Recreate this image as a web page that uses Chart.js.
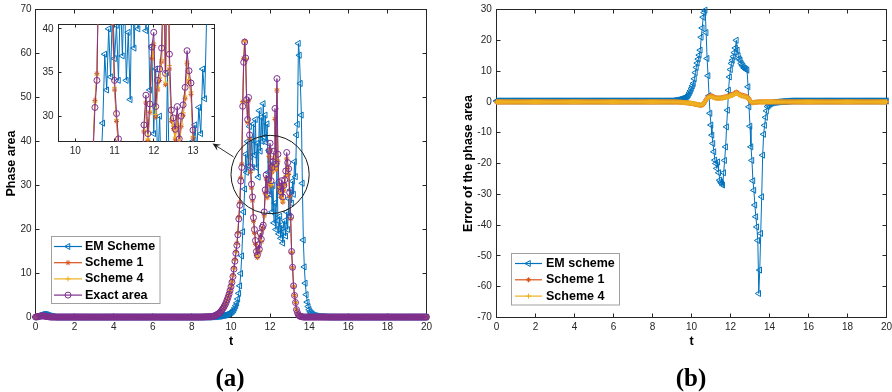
<!DOCTYPE html>
<html>
<head>
<meta charset="utf-8">
<title>Phase area and its error</title>
<script src="https://cdn.jsdelivr.net/npm/chart.js@4/dist/chart.umd.min.js"></script>
<style>
html,body{margin:0;padding:0;background:#ffffff;}
#wrap{position:relative;width:892px;height:392px;overflow:hidden;background:#fff;}
#wrap canvas{position:absolute;left:0;top:0;width:892px;height:392px;}
.cap{position:absolute;font-family:"Liberation Serif","Times New Roman",serif;font-weight:bold;font-size:25px;line-height:1;color:#000;transform:translate(-50%,-50%);white-space:nowrap;}
</style>
</head>
<body>
<div id="wrap">
  <canvas id="chartA" width="892" height="392"></canvas>
  <canvas id="chartB" width="892" height="392"></canvas>
  <canvas id="chartInset" width="892" height="392"></canvas>
  <div class="cap" style="left:230px;top:377px;">(a)</div>
  <div class="cap" style="left:691px;top:377px;">(b)</div>
</div>
<script>
// ---------------- DATA (time grid 0..20, step 0.05) ----------------
const tGrid = [
0,0.05,0.1,0.15,0.2,0.25,0.3,0.35,0.4,0.45,0.5,0.55,0.6,0.65,0.7,0.75,0.8,0.85,0.9,0.95,
1,1.05,1.1,1.15,1.2,1.25,1.3,1.35,1.4,1.45,1.5,1.55,1.6,1.65,1.7,1.75,1.8,1.85,1.9,1.95,
2,2.05,2.1,2.15,2.2,2.25,2.3,2.35,2.4,2.45,2.5,2.55,2.6,2.65,2.7,2.75,2.8,2.85,2.9,2.95,
3,3.05,3.1,3.15,3.2,3.25,3.3,3.35,3.4,3.45,3.5,3.55,3.6,3.65,3.7,3.75,3.8,3.85,3.9,3.95,
4,4.05,4.1,4.15,4.2,4.25,4.3,4.35,4.4,4.45,4.5,4.55,4.6,4.65,4.7,4.75,4.8,4.85,4.9,4.95,
5,5.05,5.1,5.15,5.2,5.25,5.3,5.35,5.4,5.45,5.5,5.55,5.6,5.65,5.7,5.75,5.8,5.85,5.9,5.95,
6,6.05,6.1,6.15,6.2,6.25,6.3,6.35,6.4,6.45,6.5,6.55,6.6,6.65,6.7,6.75,6.8,6.85,6.9,6.95,
7,7.05,7.1,7.15,7.2,7.25,7.3,7.35,7.4,7.45,7.5,7.55,7.6,7.65,7.7,7.75,7.8,7.85,7.9,7.95,
8,8.05,8.1,8.15,8.2,8.25,8.3,8.35,8.4,8.45,8.5,8.55,8.6,8.65,8.7,8.75,8.8,8.85,8.9,8.95,
9,9.05,9.1,9.15,9.2,9.25,9.3,9.35,9.4,9.45,9.5,9.55,9.6,9.65,9.7,9.75,9.8,9.85,9.9,9.95,
10,10.05,10.1,10.15,10.2,10.25,10.3,10.35,10.4,10.45,10.5,10.55,10.6,10.65,10.7,10.75,10.8,10.85,10.9,10.95,
11,11.05,11.1,11.15,11.2,11.25,11.3,11.35,11.4,11.45,11.5,11.55,11.6,11.65,11.7,11.75,11.8,11.85,11.9,11.95,
12,12.05,12.1,12.15,12.2,12.25,12.3,12.35,12.4,12.45,12.5,12.55,12.6,12.65,12.7,12.75,12.8,12.85,12.9,12.95,
13,13.05,13.1,13.15,13.2,13.25,13.3,13.35,13.4,13.45,13.5,13.55,13.6,13.65,13.7,13.75,13.8,13.85,13.9,13.95,
14,14.05,14.1,14.15,14.2,14.25,14.3,14.35,14.4,14.45,14.5,14.55,14.6,14.65,14.7,14.75,14.8,14.85,14.9,14.95,
15,15.05,15.1,15.15,15.2,15.25,15.3,15.35,15.4,15.45,15.5,15.55,15.6,15.65,15.7,15.75,15.8,15.85,15.9,15.95,
16,16.05,16.1,16.15,16.2,16.25,16.3,16.35,16.4,16.45,16.5,16.55,16.6,16.65,16.7,16.75,16.8,16.85,16.9,16.95,
17,17.05,17.1,17.15,17.2,17.25,17.3,17.35,17.4,17.45,17.5,17.55,17.6,17.65,17.7,17.75,17.8,17.85,17.9,17.95,
18,18.05,18.1,18.15,18.2,18.25,18.3,18.35,18.4,18.45,18.5,18.55,18.6,18.65,18.7,18.75,18.8,18.85,18.9,18.95,
19,19.05,19.1,19.15,19.2,19.25,19.3,19.35,19.4,19.45,19.5,19.55,19.6,19.65,19.7,19.75,19.8,19.85,19.9,19.95,
20];

// Panel (a): phase area
const emArea = [
0.1,0.15,0.2,0.3,0.4,0.5,0.6,0.65,0.7,0.7,0.7,0.65,0.6,0.5,0.4,0.35,0.3,0.25,0.2,0.15,
0.1,0.1,0.1,0.1,0.1,0.1,0.1,0.1,0.1,0.1,0.1,0.1,0.1,0.1,0.1,0.1,0.1,0.1,0.1,0.1,
0.1,0.1,0.1,0.1,0.1,0.1,0.1,0.1,0.1,0.1,0.1,0.1,0.1,0.1,0.1,0.1,0.1,0.1,0.1,0.1,
0.1,0.1,0.1,0.1,0.1,0.1,0.1,0.1,0.1,0.1,0.1,0.1,0.1,0.1,0.1,0.1,0.1,0.1,0.1,0.1,
0.1,0.1,0.1,0.1,0.1,0.1,0.1,0.1,0.1,0.1,0.1,0.1,0.1,0.1,0.1,0.1,0.1,0.1,0.1,0.1,
0.1,0.1,0.1,0.1,0.1,0.1,0.1,0.1,0.1,0.1,0.1,0.1,0.1,0.1,0.1,0.1,0.1,0.1,0.1,0.1,
0.1,0.1,0.1,0.1,0.1,0.1,0.1,0.1,0.1,0.1,0.1,0.1,0.1,0.1,0.1,0.1,0.1,0.1,0.1,0.1,
0.1,0.1,0.1,0.1,0.1,0.1,0.1,0.1,0.1,0.1,0.1,0.1,0.1,0.1,0.1,0.1,0.1,0.1,0.1,0.1,
0.1,0.1,0.1,0.1,0.1,0.1,0.1,0.1,0.1,0.1,0.1,0.1,0.1,0.1,0.1,0.1,0.1,0.1,0.1,0.1,
0.15,0.15,0.15,0.2,0.2,0.2,0.25,0.25,0.3,0.3,
0.35,0.4,0.45,0.5,0.55,0.6,0.7,0.8,0.9,1.0,
1.1,1.3,1.5,1.8,2.2,2.7,3.3,4.2,5.5,7.2,
10.0,14.0,19.5,24.0,29.2,37.1,33.0,40.0,34.5,43.4,
36.6,40.4,34.1,44.0,36.9,45.0,34.1,39.6,31.9,47.0,
37.8,45.5,40.0,48.6,41.0,46.0,39.8,44.0,33.0,38.0,
28.0,35.4,24.0,30.0,21.5,26.0,20.0,35.0,22.0,19.0,
23.0,18.0,21.0,16.9,19.5,22.0,18.5,24.0,20.0,27.0,
23.0,29.0,26.0,31.0,28.0,35.4,32.0,41.5,43.9,62.3,
59.6,53.2,46.0,30.5,17.6,11.5,7.8,5.2,3.5,2.5,
1.8,1.3,1.0,0.8,0.6,0.5,0.4,0.35,0.3,0.25,0.2,
0.2,0.2,0.2,0.18,0.16,0.15,0.14,0.12,0.11,0.1,
0.1,0.1,0.1,0.1,0.1,0.1,0.1,0.1,0.1,0.1,0.1,0.1,0.1,0.1,0.1,0.1,0.1,0.1,0.1,0.1,
0.1,0.1,0.1,0.1,0.1,0.1,0.1,0.1,0.1,0.1,0.1,0.1,0.1,0.1,0.1,0.1,0.1,0.1,0.1,0.1,
0.1,0.1,0.1,0.1,0.1,0.1,0.1,0.1,0.1,0.1,0.1,0.1,0.1,0.1,0.1,0.1,0.1,0.1,0.1,0.1,
0.1,0.1,0.1,0.1,0.1,0.1,0.1,0.1,0.1,0.1,0.1,0.1,0.1,0.1,0.1,0.1,0.1,0.1,0.1,0.1,
0.1,0.1,0.1,0.1,0.1,0.1,0.1,0.1,0.1,0.1,0.1,0.1,0.1,0.1,0.1,0.1,0.1,0.1,0.1,0.1];

const s1Area = [
0.1,0.15,0.2,0.25,0.3,0.32,0.35,0.35,0.35,0.33,0.3,0.25,0.2,0.18,0.15,0.12,0.1,0.1,0.1,0.1,
0.1,0.1,0.1,0.1,0.1,0.1,0.1,0.1,0.1,0.1,0.1,0.1,0.1,0.1,0.1,0.1,0.1,0.1,0.1,0.1,
0.1,0.1,0.1,0.1,0.1,0.1,0.1,0.1,0.1,0.1,0.1,0.1,0.1,0.1,0.1,0.1,0.1,0.1,0.1,0.1,
0.1,0.1,0.1,0.1,0.1,0.1,0.1,0.1,0.1,0.1,0.1,0.1,0.1,0.1,0.1,0.1,0.1,0.1,0.1,0.1,
0.1,0.1,0.1,0.1,0.1,0.1,0.1,0.1,0.1,0.1,0.1,0.1,0.1,0.1,0.1,0.1,0.1,0.1,0.1,0.1,
0.1,0.1,0.1,0.1,0.1,0.1,0.1,0.1,0.1,0.1,0.1,0.1,0.1,0.1,0.1,0.1,0.1,0.1,0.1,0.1,
0.1,0.1,0.1,0.1,0.1,0.1,0.1,0.1,0.1,0.1,0.1,0.1,0.1,0.1,0.1,0.1,0.1,0.1,0.1,0.1,
0.1,0.1,0.1,0.1,0.1,0.1,0.1,0.1,0.1,0.1,0.1,0.1,0.1,0.1,0.1,0.1,0.1,0.1,0.1,0.1,
0.1,0.1,0.1,0.1,0.1,0.1,0.1,0.1,0.1,0.1,0.11,0.12,0.12,0.13,0.14,0.15,0.16,0.17,0.18,0.19,
0.2,0.25,0.3,0.35,0.45,0.55,0.7,0.85,1.0,1.2,
1.5,1.8,2.1,2.5,2.9,3.4,4.0,4.7,5.4,6.2,
7.2,8.3,9.6,11.3,13.2,15.0,16.9,19.3,22.9,26.2,
31.8,34.9,49.1,58.9,62.9,58.6,49.0,44.3,49.2,40.6,
33.0,29.4,26.5,21.8,19.1,16.6,14.1,13.6,15.8,14.9,
18.4,17.2,19.9,20.3,23.1,28.2,31.5,27.2,30.4,36.6,
38.1,29.9,33.0,34.1,36.2,45.0,33.6,51.5,35.4,29.4,
28.6,27.3,29.8,26.2,28.8,30.1,32.0,36.0,33.9,32.5,
27.5,22.4,14.8,11.3,7.1,5.0,3.4,1.8,1.1,0.6,
0.35,0.25,0.2,0.15,0.1,0.1,0.1,0.1,0.1,0.1,
0.1,0.1,0.1,0.1,0.1,0.1,0.1,0.1,0.1,0.1,0.1,
0.1,0.1,0.1,0.1,0.1,0.1,0.1,0.1,0.1,0.1,
0.1,0.1,0.1,0.1,0.1,0.1,0.1,0.1,0.1,0.1,0.1,0.1,0.1,0.1,0.1,0.1,0.1,0.1,0.1,0.1,
0.1,0.1,0.1,0.1,0.1,0.1,0.1,0.1,0.1,0.1,0.1,0.1,0.1,0.1,0.1,0.1,0.1,0.1,0.1,0.1,
0.1,0.1,0.1,0.1,0.1,0.1,0.1,0.1,0.1,0.1,0.1,0.1,0.1,0.1,0.1,0.1,0.1,0.1,0.1,0.1,
0.1,0.1,0.1,0.1,0.1,0.1,0.1,0.1,0.1,0.1,0.1,0.1,0.1,0.1,0.1,0.1,0.1,0.1,0.1,0.1,
0.1,0.1,0.1,0.1,0.1,0.1,0.1,0.1,0.1,0.1,0.1,0.1,0.1,0.1,0.1,0.1,0.1,0.1,0.1,0.1];

const s4Area = [
0.1,0.15,0.2,0.25,0.3,0.32,0.35,0.35,0.35,0.33,0.3,0.25,0.2,0.18,0.15,0.12,0.1,0.1,0.1,0.1,
0.1,0.1,0.1,0.1,0.1,0.1,0.1,0.1,0.1,0.1,0.1,0.1,0.1,0.1,0.1,0.1,0.1,0.1,0.1,0.1,
0.1,0.1,0.1,0.1,0.1,0.1,0.1,0.1,0.1,0.1,0.1,0.1,0.1,0.1,0.1,0.1,0.1,0.1,0.1,0.1,
0.1,0.1,0.1,0.1,0.1,0.1,0.1,0.1,0.1,0.1,0.1,0.1,0.1,0.1,0.1,0.1,0.1,0.1,0.1,0.1,
0.1,0.1,0.1,0.1,0.1,0.1,0.1,0.1,0.1,0.1,0.1,0.1,0.1,0.1,0.1,0.1,0.1,0.1,0.1,0.1,
0.1,0.1,0.1,0.1,0.1,0.1,0.1,0.1,0.1,0.1,0.1,0.1,0.1,0.1,0.1,0.1,0.1,0.1,0.1,0.1,
0.1,0.1,0.1,0.1,0.1,0.1,0.1,0.1,0.1,0.1,0.1,0.1,0.1,0.1,0.1,0.1,0.1,0.1,0.1,0.1,
0.1,0.1,0.1,0.1,0.1,0.1,0.1,0.1,0.1,0.1,0.1,0.1,0.1,0.1,0.1,0.1,0.1,0.1,0.1,0.1,
0.1,0.1,0.1,0.1,0.1,0.1,0.1,0.1,0.1,0.1,0.11,0.12,0.12,0.13,0.14,0.15,0.16,0.17,0.18,0.19,
0.2,0.25,0.3,0.35,0.45,0.55,0.7,0.85,1.0,1.2,
1.5,1.8,2.1,2.5,2.9,3.4,4.0,4.7,5.4,6.2,
7.2,8.2,9.5,11.2,13.1,14.9,16.8,19.2,22.8,26.0,
31.6,34.7,48.8,58.6,62.7,58.8,49.2,44.5,49.4,40.8,
33.3,29.6,26.8,22.0,19.3,16.8,14.3,13.8,16.0,15.1,
18.6,17.4,20.0,20.5,23.3,28.4,31.7,27.4,30.6,36.9,
38.4,30.2,33.3,34.4,36.5,45.5,33.9,52.0,35.8,29.7,
28.9,27.6,30.1,26.5,29.1,30.4,32.3,36.3,34.2,32.8,
27.7,22.5,14.9,11.3,7.1,5.0,3.4,1.8,1.1,0.6,
0.35,0.25,0.2,0.15,0.1,0.1,0.1,0.1,0.1,0.1,
0.1,0.1,0.1,0.1,0.1,0.1,0.1,0.1,0.1,0.1,0.1,
0.1,0.1,0.1,0.1,0.1,0.1,0.1,0.1,0.1,0.1,
0.1,0.1,0.1,0.1,0.1,0.1,0.1,0.1,0.1,0.1,0.1,0.1,0.1,0.1,0.1,0.1,0.1,0.1,0.1,0.1,
0.1,0.1,0.1,0.1,0.1,0.1,0.1,0.1,0.1,0.1,0.1,0.1,0.1,0.1,0.1,0.1,0.1,0.1,0.1,0.1,
0.1,0.1,0.1,0.1,0.1,0.1,0.1,0.1,0.1,0.1,0.1,0.1,0.1,0.1,0.1,0.1,0.1,0.1,0.1,0.1,
0.1,0.1,0.1,0.1,0.1,0.1,0.1,0.1,0.1,0.1,0.1,0.1,0.1,0.1,0.1,0.1,0.1,0.1,0.1,0.1,
0.1,0.1,0.1,0.1,0.1,0.1,0.1,0.1,0.1,0.1,0.1,0.1,0.1,0.1,0.1,0.1,0.1,0.1,0.1,0.1];

const exactArea = [
0.1,0.15,0.2,0.25,0.3,0.32,0.35,0.35,0.35,0.33,0.3,0.25,0.2,0.18,0.15,0.12,0.1,0.1,0.1,0.1,
0.1,0.1,0.1,0.1,0.1,0.1,0.1,0.1,0.1,0.1,0.1,0.1,0.1,0.1,0.1,0.1,0.1,0.1,0.1,0.1,
0.1,0.1,0.1,0.1,0.1,0.1,0.1,0.1,0.1,0.1,0.1,0.1,0.1,0.1,0.1,0.1,0.1,0.1,0.1,0.1,
0.1,0.1,0.1,0.1,0.1,0.1,0.1,0.1,0.1,0.1,0.1,0.1,0.1,0.1,0.1,0.1,0.1,0.1,0.1,0.1,
0.1,0.1,0.1,0.1,0.1,0.1,0.1,0.1,0.1,0.1,0.1,0.1,0.1,0.1,0.1,0.1,0.1,0.1,0.1,0.1,
0.1,0.1,0.1,0.1,0.1,0.1,0.1,0.1,0.1,0.1,0.1,0.1,0.1,0.1,0.1,0.1,0.1,0.1,0.1,0.1,
0.1,0.1,0.1,0.1,0.1,0.1,0.1,0.1,0.1,0.1,0.1,0.1,0.1,0.1,0.1,0.1,0.1,0.1,0.1,0.1,
0.1,0.1,0.1,0.1,0.1,0.1,0.1,0.1,0.1,0.1,0.1,0.1,0.1,0.1,0.1,0.1,0.1,0.1,0.1,0.1,
0.1,0.1,0.1,0.1,0.1,0.1,0.1,0.1,0.1,0.1,0.11,0.12,0.12,0.13,0.14,0.15,0.16,0.17,0.18,0.19,
0.2,0.25,0.3,0.35,0.45,0.55,0.7,0.85,1.0,1.2,
1.5,1.8,2.1,2.5,2.9,3.4,4.0,4.6,5.3,6.1,
7.0,8.0,9.3,11.0,12.8,14.6,16.4,18.8,22.4,25.5,
31.0,34.1,48.0,58.0,62.6,59.0,49.5,45.0,50.0,41.5,
34.1,30.3,27.4,22.7,20.0,17.5,15.0,14.2,16.5,15.5,
19.2,17.8,20.5,21.0,24.0,29.0,32.4,28.0,31.4,37.9,
39.6,31.1,34.1,35.4,37.8,47.5,34.9,54.3,37.1,30.7,
29.8,28.5,31.1,27.4,30.0,31.3,33.3,37.5,35.2,33.8,
28.4,22.9,15.0,11.4,7.2,5.0,3.4,1.8,1.1,0.6,
0.35,0.25,0.2,0.15,0.1,0.1,0.1,0.1,0.1,0.1,
0.1,0.1,0.1,0.1,0.1,0.1,0.1,0.1,0.1,0.1,0.1,
0.1,0.1,0.1,0.1,0.1,0.1,0.1,0.1,0.1,0.1,
0.1,0.1,0.1,0.1,0.1,0.1,0.1,0.1,0.1,0.1,0.1,0.1,0.1,0.1,0.1,0.1,0.1,0.1,0.1,0.1,
0.1,0.1,0.1,0.1,0.1,0.1,0.1,0.1,0.1,0.1,0.1,0.1,0.1,0.1,0.1,0.1,0.1,0.1,0.1,0.1,
0.1,0.1,0.1,0.1,0.1,0.1,0.1,0.1,0.1,0.1,0.1,0.1,0.1,0.1,0.1,0.1,0.1,0.1,0.1,0.1,
0.1,0.1,0.1,0.1,0.1,0.1,0.1,0.1,0.1,0.1,0.1,0.1,0.1,0.1,0.1,0.1,0.1,0.1,0.1,0.1,
0.1,0.1,0.1,0.1,0.1,0.1,0.1,0.1,0.1,0.1,0.1,0.1,0.1,0.1,0.1,0.1,0.1,0.1,0.1,0.1];

// Panel (b): error of the phase area
const emErr = [
0.3,0.3,0.3,0.3,0.3,0.3,0.3,0.3,0.3,0.3,0.3,0.3,0.3,0.3,0.3,0.3,0.3,0.3,0.3,0.3,
0.3,0.3,0.3,0.3,0.3,0.3,0.3,0.3,0.3,0.3,0.3,0.3,0.3,0.3,0.3,0.3,0.3,0.3,0.3,0.3,
0.3,0.3,0.3,0.3,0.3,0.3,0.3,0.3,0.3,0.3,0.3,0.3,0.3,0.3,0.3,0.3,0.3,0.3,0.3,0.3,
0.3,0.3,0.3,0.3,0.3,0.3,0.3,0.3,0.3,0.3,0.3,0.3,0.3,0.3,0.3,0.3,0.3,0.3,0.3,0.3,
0.3,0.3,0.3,0.3,0.3,0.3,0.3,0.3,0.3,0.3,0.3,0.3,0.3,0.3,0.3,0.3,0.3,0.3,0.3,0.3,
0.3,0.3,0.3,0.3,0.3,0.3,0.3,0.3,0.3,0.3,0.3,0.3,0.3,0.3,0.3,0.3,0.3,0.3,0.3,0.3,
0.3,0.3,0.3,0.3,0.3,0.3,0.3,0.3,0.3,0.3,0.3,0.3,0.3,0.3,0.3,0.3,0.3,0.3,0.3,0.3,
0.3,0.3,0.3,0.3,0.3,0.3,0.3,0.3,0.3,0.3,0.3,0.3,0.3,0.3,0.3,0.3,0.3,0.3,0.3,0.3,
0.3,0.3,0.3,0.3,0.3,0.3,0.3,0.3,0.3,0.3,0.3,0.3,0.3,0.3,0.3,0.3,0.3,0.3,0.3,0.3,
0.3,0.35,0.4,0.45,0.5,0.55,0.6,0.7,0.8,0.9,
1.0,1.1,1.2,1.35,1.5,1.7,2.0,2.4,3.0,3.6,
4.4,5.2,6.0,7.5,9.5,11.2,12.6,13.9,15.2,16.8,
21.0,24.0,27.5,29.0,29.8,22.5,14.1,8.5,2.0,-3.7,
-7.5,-10.8,-13.5,-16.2,-18.9,-20.0,-21.6,-19.5,-23.0,-25.4,
-26.0,-26.5,-27.0,-23.0,-19.0,-14.6,-8.1,-2.7,3.8,8.1,
10.5,12.5,13.5,14.7,16.0,17.5,20.0,16.8,15.0,14.0,
13.5,12.5,12.0,11.5,11.0,10.8,10.5,10.3,4.9,-1.6,
-7.9,-14.6,-19.0,-25.6,-28.7,-33.5,-37.3,-40.6,-45.0,-62.2,
-54.6,-42.7,-30.8,-17.3,-10.5,-7.6,-5.0,-2.9,-1.5,-1.1,
-0.8,-0.6,-0.4,-0.3,-0.2,-0.15,-0.1,-0.1,-0.05,0,0,
0.02,0.05,0.08,0.1,0.12,0.15,0.18,0.2,0.22,0.25,
0.27,0.28,0.3,0.3,0.3,0.3,0.3,0.3,0.3,0.3,0.3,0.3,0.3,0.3,0.3,0.3,0.3,0.3,0.3,0.3,
0.3,0.3,0.3,0.3,0.3,0.3,0.3,0.3,0.3,0.3,0.3,0.3,0.3,0.3,0.3,0.3,0.3,0.3,0.3,0.3,
0.3,0.3,0.3,0.3,0.3,0.3,0.3,0.3,0.3,0.3,0.3,0.3,0.3,0.3,0.3,0.3,0.3,0.3,0.3,0.3,
0.3,0.3,0.3,0.3,0.3,0.3,0.3,0.3,0.3,0.3,0.3,0.3,0.3,0.3,0.3,0.3,0.3,0.3,0.3,0.3,
0.3,0.3,0.3,0.3,0.3,0.3,0.3,0.3,0.3,0.3,0.3,0.3,0.3,0.3,0.3,0.3,0.3,0.3,0.3,0.3];

const s1Err = [
0,0,0,0,0,0,0,0,0,0,0,0,0,0,0,0,0,0,0,0,
0,0,0,0,0,0,0,0,0,0,0,0,0,0,0,0,0,0,0,0,
0,0,0,0,0,0,0,0,0,0,0,0,0,0,0,0,0,0,0,0,
0,0,0,0,0,0,0,0,0,0,0,0,0,0,0,0,0,0,0,0,
0,0,0,0,0,0,0,0,0,0,0,0,0,0,0,0,0,0,0,0,
0,0,0,0,0,0,0,0,0,0,0,0,0,0,0,0,0,0,0,0,
0,0,0,0,0,0,0,0,0,0,0,0,0,0,0,0,0,0,0,0,
0,0,0,0,0,0,0,0,0,0,0,0,0,0,0,0,0,0,0,0,
0,0,0,0,0,0,0,0,0,0,0,0,0,0,0,0,0,0,0,0,
0,0,0,0,-0.05,-0.05,-0.05,-0.1,-0.1,-0.1,
-0.15,-0.15,-0.2,-0.2,-0.25,-0.3,-0.3,-0.35,-0.4,-0.45,
-0.5,-0.55,-0.6,-0.7,-0.75,-0.8,-0.9,-0.95,-1.0,-1.1,
-1.1,-1.0,-0.8,-0.4,0.2,0.7,1.1,1.5,1.8,1.9,
2.0,1.9,1.7,1.6,1.4,1.3,1.3,1.2,1.3,1.2,
1.3,1.4,1.3,1.5,1.6,1.5,1.7,1.9,1.8,2.0,
2.2,2.4,2.3,2.5,2.7,2.9,3.2,3.0,2.7,2.5,
2.3,2.1,2.2,2.0,1.9,1.9,1.8,1.6,1.4,0.9,
0.4,0,-0.2,-0.3,-0.2,-0.15,-0.1,-0.1,-0.05,0,
0,0,0,0,0,0,0,0,0,0,
0,0,0,0,0,0,0,0,0,0,0,
0,0,0,0,0,0,0,0,0,0,
0,0,0,0,0,0,0,0,0,0,0,0,0,0,0,0,0,0,0,0,
0,0,0,0,0,0,0,0,0,0,0,0,0,0,0,0,0,0,0,0,
0,0,0,0,0,0,0,0,0,0,0,0,0,0,0,0,0,0,0,0,
0,0,0,0,0,0,0,0,0,0,0,0,0,0,0,0,0,0,0,0,
0,0,0,0,0,0,0,0,0,0,0,0,0,0,0,0,0,0,0,0];

const s4Err = [
0,0,0,0,0,0,0,0,0,0,0,0,0,0,0,0,0,0,0,0,
0,0,0,0,0,0,0,0,0,0,0,0,0,0,0,0,0,0,0,0,
0,0,0,0,0,0,0,0,0,0,0,0,0,0,0,0,0,0,0,0,
0,0,0,0,0,0,0,0,0,0,0,0,0,0,0,0,0,0,0,0,
0,0,0,0,0,0,0,0,0,0,0,0,0,0,0,0,0,0,0,0,
0,0,0,0,0,0,0,0,0,0,0,0,0,0,0,0,0,0,0,0,
0,0,0,0,0,0,0,0,0,0,0,0,0,0,0,0,0,0,0,0,
0,0,0,0,0,0,0,0,0,0,0,0,0,0,0,0,0,0,0,0,
0,0,0,0,0,0,0,0,0,0,0,0,0,0,0,0,0,0,0,0,
0,0,0,0,-0.05,-0.05,-0.05,-0.1,-0.1,-0.1,
-0.15,-0.15,-0.2,-0.2,-0.25,-0.25,-0.3,-0.35,-0.4,-0.4,
-0.45,-0.5,-0.55,-0.65,-0.7,-0.75,-0.85,-0.9,-0.95,-1.0,
-1.0,-0.9,-0.7,-0.35,0.2,0.6,1.0,1.4,1.6,1.7,
1.8,1.7,1.5,1.4,1.3,1.2,1.2,1.1,1.2,1.1,
1.2,1.3,1.2,1.4,1.5,1.4,1.6,1.7,1.6,1.8,
2.0,2.2,2.1,2.3,2.5,2.7,2.9,2.8,2.5,2.3,
2.1,1.9,2.0,1.8,1.7,1.7,1.6,1.5,1.3,0.8,
0.35,0,-0.2,-0.25,-0.2,-0.15,-0.1,-0.1,-0.05,0,
0,0,0,0,0,0,0,0,0,0,
0,0,0,0,0,0,0,0,0,0,0,
0,0,0,0,0,0,0,0,0,0,
0,0,0,0,0,0,0,0,0,0,0,0,0,0,0,0,0,0,0,0,
0,0,0,0,0,0,0,0,0,0,0,0,0,0,0,0,0,0,0,0,
0,0,0,0,0,0,0,0,0,0,0,0,0,0,0,0,0,0,0,0,
0,0,0,0,0,0,0,0,0,0,0,0,0,0,0,0,0,0,0,0,
0,0,0,0,0,0,0,0,0,0,0,0,0,0,0,0,0,0,0,0];

// ---------------- STYLE ----------------
const FONT = '"Liberation Sans", Arial, Helvetica, sans-serif';
const AXC = '#262626';
const C_EM = '#0072BD', C_S1 = '#D95319', C_S4 = '#EDB120', C_EX = '#7E2F8E';

function toXY(vals){ return tGrid.map((t,i)=>({x:t, y:vals[i]})); }

function series(label, vals, color, style, r, rot, order, clip){
  return {
    label, data: toXY(vals), showLine: true,
    borderColor: color, borderWidth: 1, backgroundColor: 'rgba(0,0,0,0)',
    pointStyle: style, pointRadius: r, pointHoverRadius: r, pointRotation: rot,
    pointBorderColor: color, pointBackgroundColor: 'rgba(0,0,0,0)', pointBorderWidth: 1,
    tension: 0, order, clip
  };
}

function axis(o){
  return {
    type: 'linear', min: o.min, max: o.max,
    grid: {display: false, drawTicks: false},
    border: {display: false},
    ticks: {stepSize: o.step, padding: o.pad, color: AXC, font: {family: FONT, size: 10},
            maxRotation: 0, minRotation: 0, autoSkip: false, includeBounds: false},
    title: o.title ? {display: true, text: o.title, color: '#000',
            font: {family: FONT, size: 12.5, weight: 'bold'}, padding: o.tpad} : {display: false},
    afterFit(s){
      if (o.isX) s.height = o.fit; else s.width = o.fit;
      s.paddingLeft = 0; s.paddingRight = 0; s.paddingTop = 0; s.paddingBottom = 0;
    }
  };
}

function baseOptions(pad, xA, yA){
  return {
    responsive: false, animation: false, devicePixelRatio: 1, events: [],
    layout: {padding: pad},
    plugins: {legend: {display: false}, tooltip: {enabled: false}, title: {display: false}},
    scales: {x: xA, y: yA}
  };
}

function drawMarker(ctx, style, r, rot, x, y){
  if (Chart.helpers && Chart.helpers.drawPoint) {
    Chart.helpers.drawPoint(ctx, {pointStyle: style, radius: r, rotation: rot, borderWidth: 1}, x, y);
  } else {
    ctx.beginPath(); ctx.arc(x, y, r, 0, Math.PI*2); ctx.stroke();
  }
}

function framePlugin(tickLen, fill){
  return { id: 'frame', beforeDatasetsDraw(chart){
    const ctx = chart.ctx, a = chart.chartArea, xs = chart.scales.x, ys = chart.scales.y;
    ctx.save();
    if (fill) { ctx.fillStyle = fill; ctx.fillRect(a.left, a.top, a.right-a.left, a.bottom-a.top); }
    ctx.strokeStyle = AXC; ctx.lineWidth = 1;
    ctx.beginPath();
    xs.ticks.forEach(tk => {
      const p = Math.floor(xs.getPixelForValue(tk.value)) + 0.5;
      ctx.moveTo(p, a.bottom); ctx.lineTo(p, a.bottom - tickLen);
      ctx.moveTo(p, a.top); ctx.lineTo(p, a.top + tickLen);
    });
    ys.ticks.forEach(tk => {
      const p = Math.floor(ys.getPixelForValue(tk.value)) + 0.5;
      ctx.moveTo(a.left, p); ctx.lineTo(a.left + tickLen, p);
      ctx.moveTo(a.right, p); ctx.lineTo(a.right - tickLen, p);
    });
    ctx.stroke();
    ctx.strokeRect(a.left, a.top, a.right-a.left, a.bottom-a.top);
    ctx.restore();
  }};
}

function legendPlugin(L){
  return { id: 'mlegend', afterDatasetsDraw(chart){
    const ctx = chart.ctx;
    ctx.save();
    ctx.fillStyle = '#ffffff'; ctx.fillRect(L.x, L.y, L.w, L.h);
    ctx.strokeStyle = '#a0a0a0'; ctx.lineWidth = 1; ctx.strokeRect(L.x, L.y, L.w, L.h);
    L.items.forEach((it, i) => {
      const y = L.y0 + i*L.dy;
      ctx.strokeStyle = it.color; ctx.lineWidth = 1.2;
      ctx.beginPath(); ctx.moveTo(L.lx0, y); ctx.lineTo(L.lx1, y); ctx.stroke();
      ctx.lineWidth = 1; ctx.fillStyle = 'rgba(0,0,0,0)';
      drawMarker(ctx, it.style, it.r, it.rot, L.mx, y);
      ctx.fillStyle = '#000'; ctx.font = 'bold 12.5px ' + FONT;
      ctx.textAlign = 'left'; ctx.textBaseline = 'middle';
      ctx.fillText(it.label, L.tx, y);
    });
    ctx.restore();
  }};
}

function annotPlugin(A){
  return { id: 'annot', afterDatasetsDraw(chart){
    const ctx = chart.ctx, xs = chart.scales.x, ys = chart.scales.y;
    ctx.save();
    const cx = xs.getPixelForValue(A.circle.t), cy = ys.getPixelForValue(A.circle.v);
    const rx = Math.abs(xs.getPixelForValue(A.circle.t + A.circle.dt) - cx);
    const ry = Math.abs(ys.getPixelForValue(A.circle.v + A.circle.dv) - cy);
    ctx.strokeStyle = '#1a1a1a'; ctx.lineWidth = 1;
    ctx.beginPath(); ctx.ellipse(cx, cy, rx, ry, 0, 0, Math.PI*2); ctx.stroke();
    const x0 = xs.getPixelForValue(A.arrow.t0), y0 = ys.getPixelForValue(A.arrow.v0);
    const x1 = xs.getPixelForValue(A.arrow.t1), y1 = ys.getPixelForValue(A.arrow.v1);
    const ang = Math.atan2(y1-y0, x1-x0), c = Math.cos(ang), s = Math.sin(ang), hl = 8, hw = 3.5;
    ctx.strokeStyle = '#333'; ctx.beginPath(); ctx.moveTo(x0, y0); ctx.lineTo(x1 - c*hl*0.6, y1 - s*hl*0.6); ctx.stroke();
    ctx.fillStyle = '#1a1a1a';
    ctx.beginPath();
    ctx.moveTo(x1, y1);
    ctx.lineTo(x1 - hl*c + hw*s, y1 - hl*s - hw*c);
    ctx.lineTo(x1 - 0.6*hl*c, y1 - 0.6*hl*s);
    ctx.lineTo(x1 - hl*c - hw*s, y1 - hl*s + hw*c);
    ctx.closePath(); ctx.fill();
    ctx.restore();
  }};
}

// ---------------- PANEL (a) ----------------
const legendA = [
  {label: 'EM Scheme', color: C_EM, style: 'triangle', r: 3.5, rot: -90},
  {label: 'Scheme 1', color: C_S1, style: 'star', r: 2.5, rot: 0},
  {label: 'Scheme 4', color: C_S4, style: 'cross', r: 2.5, rot: 0},
  {label: 'Exact area', color: C_EX, style: 'circle', r: 3, rot: 0}
];
function datasetsA(clip){
  return [
    series('EM Scheme', emArea, C_EM, 'triangle', 3.5, -90, 3, clip),
    series('Scheme 1', s1Area, C_S1, 'star', 2.5, 0, 2, clip),
    series('Scheme 4', s4Area, C_S4, 'cross', 2.5, 0, 1, clip),
    series('Exact area', exactArea, C_EX, 'circle', 3, 0, 0, clip)
  ];
}

new Chart(document.getElementById('chartA'), {
  type: 'scatter',
  data: {datasets: datasetsA(false)},
  options: baseOptions({left: 0, top: 9.5, right: 465.5, bottom: 42.5},
    axis({isX: true, min: 0, max: 20, step: 2, pad: 4, fit: 32, title: 't', tpad: {top: 0, bottom: 0}}),
    axis({isX: false, min: 0, max: 70, step: 10, pad: 4, fit: 35.5, title: 'Phase area', tpad: {top: 4.2, bottom: 0}})),
  plugins: [
    framePlugin(4, null),
    annotPlugin({circle: {t: 12.0, v: 32.5, dt: 2.0, dv: 8.9}, arrow: {t0: 10.13, v0: 36.5, t1: 9.055, v1: 39.55}}),
    legendPlugin({x: 51.5, y: 236.5, w: 108.5, h: 67, y0: 246.5, dy: 16.2, lx0: 54, lx1: 82, mx: 68, tx: 85, items: legendA})
  ]
});

// ---------------- INSET of (a) ----------------
new Chart(document.getElementById('chartInset'), {
  type: 'scatter',
  data: {datasets: datasetsA(0)},
  options: baseOptions({left: 30, top: 24.5, right: 677.5, bottom: 230.5},
    axis({isX: true, min: 9.57, max: 13.55, step: 1, pad: 3.5, fit: 20}),
    axis({isX: false, min: 27.1, max: 40.5, step: 5, pad: 5, fit: 28.5})),
  plugins: [framePlugin(3, '#ffffff')]
});

// ---------------- PANEL (b) ----------------
const legendB = [
  {label: 'EM scheme', color: C_EM, style: 'triangle', r: 3.5, rot: -90},
  {label: 'Scheme 1', color: C_S1, style: 'star', r: 2.5, rot: 0},
  {label: 'Scheme 4', color: C_S4, style: 'cross', r: 2.5, rot: 0}
];
new Chart(document.getElementById('chartB'), {
  type: 'scatter',
  data: {datasets: [
    series('EM scheme', emErr, C_EM, 'triangle', 3.5, -90, 2, false),
    series('Scheme 1', s1Err, C_S1, 'star', 2.5, 0, 1, false),
    series('Scheme 4', s4Err, C_S4, 'cross', 2.5, 0, 0, false)
  ]},
  options: baseOptions({left: 455, top: 9.5, right: 5.5, bottom: 42.5},
    axis({isX: true, min: 0, max: 20, step: 2, pad: 4, fit: 32, title: 't', tpad: {top: 0, bottom: 0}}),
    axis({isX: false, min: -70, max: 30, step: 10, pad: 4.7, fit: 41.5, title: 'Error of the phase area', tpad: {top: 5.8, bottom: 0}})),
  plugins: [
    framePlugin(4, null),
    legendPlugin({x: 511.5, y: 253.5, w: 108, h: 51.5, y0: 263.5, dy: 16.3, lx0: 515, lx1: 542, mx: 528.5, tx: 546, items: legendB})
  ]
});
</script>
</body>
</html>
